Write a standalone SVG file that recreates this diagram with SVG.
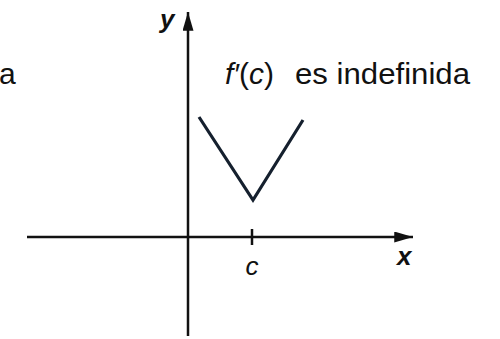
<svg xmlns="http://www.w3.org/2000/svg" width="500" height="339" viewBox="0 0 500 339">
<style>
.ax{stroke:#111;stroke-width:2.5;fill:none}
.curve{stroke:#15202e;stroke-width:3.2;fill:none;stroke-linejoin:miter}
.lbl{font-family:"Liberation Sans",Arial,sans-serif;fill:#111}
.axl{font-family:"Liberation Sans",Arial,sans-serif;font-weight:bold;font-style:italic;fill:#111}
</style>
<defs>
<marker id="arr" markerWidth="7.5" markerHeight="4.4" refX="7.5" refY="2.2" orient="auto" markerUnits="strokeWidth">
<path d="M0,0 L7.5,2.2 L0,4.4 Z" fill="#111"/>
</marker>
</defs>
<rect width="500" height="339" fill="#fff"/>
<g id="connectors">
<line class="ax" x1="27" y1="237" x2="413" y2="237" marker-end="url(#arr)"/>
<line class="ax" x1="188" y1="336" x2="188" y2="12" marker-end="url(#arr)"/>
<line class="ax" x1="252" y1="229" x2="252" y2="245"/>
</g>
<g id="curve">
<polyline class="curve" points="199,117 253,200 303,120"/>
</g>
<g id="labels">
<text class="axl" x="160" y="28" font-size="26">y</text>
<text class="axl" x="397" y="265" font-size="26">x</text>
<text class="lbl" x="252" y="275" font-size="26" font-style="italic" text-anchor="middle">c</text>
<text class="lbl" x="-1" y="84" font-size="30">a</text>
<text class="lbl" x="225" y="84" font-size="30" fill="#1a2233"><tspan font-style="italic">f′</tspan>(<tspan font-style="italic">c</tspan>)</text>
<text class="lbl" x="295" y="84" font-size="30" textLength="175" lengthAdjust="spacingAndGlyphs">es indefinida</text>
</g>
</svg>
